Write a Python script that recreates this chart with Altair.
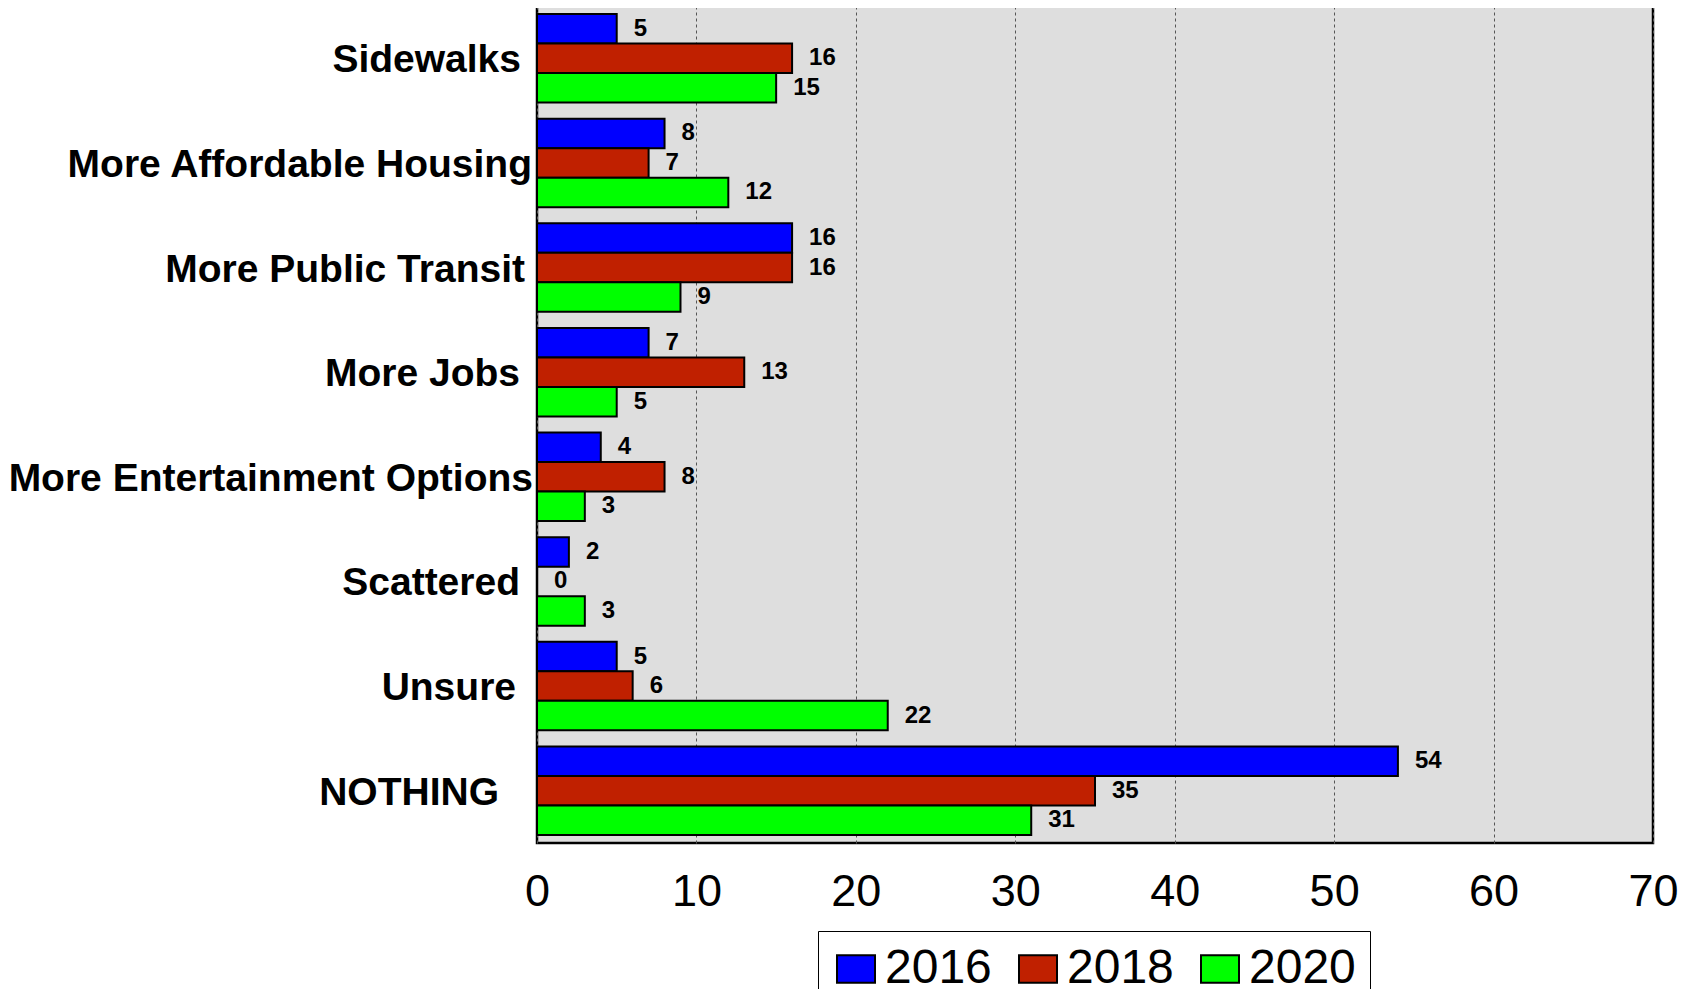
import altair as alt
import pandas as pd

categories = ["Sidewalks", "More Affordable Housing", "More Public Transit", "More Jobs",
              "More Entertainment Options", "Scattered", "Unsure", "NOTHING"]
years = ["2016", "2018", "2020"]
values_2016 = [5, 8, 16, 7, 4, 2, 5, 54]
values_2018 = [16, 7, 16, 13, 8, 0, 6, 35]
values_2020 = [15, 12, 9, 5, 3, 3, 22, 31]
colors = ["#0000ff", "#c02000", "#00ff00"]
x_ticks = [0, 10, 20, 30, 40, 50, 60, 70]
# right-edge gap (px) of each category label from the plot frame (style only)
label_gap = [16, 5, 12, 17, 4, 17, 21, 38]

rows = []
for yr, vals in zip(years, [values_2016, values_2018, values_2020]):
    for c, v in zip(categories, vals):
        rows.append({"category": c, "year": yr, "value": v})
df = pd.DataFrame(rows)

FONT = "Liberation Sans, Arial, sans-serif"

y_scale = alt.Scale(paddingInner=0.153, paddingOuter=0.0765)
y_enc = alt.Y("category:N", sort=categories, scale=y_scale, axis=None)
yoff = alt.YOffset("year:N", sort=years, scale=alt.Scale(paddingInner=0, paddingOuter=0))
x_enc = alt.X("value:Q", scale=alt.Scale(domain=[0, 70], nice=False),
              axis=alt.Axis(title=None, values=x_ticks, ticks=False, domain=False,
                            labelFont=FONT, labelFontSize=45, labelColor="black",
                            labelPadding=26, labelFlush=False, grid=True,
                            gridColor="#555555", gridDash=[3, 3], gridWidth=1))

bars = alt.Chart(df).mark_bar(stroke="black", strokeWidth=2, opacity=1).encode(
    y=y_enc, yOffset=yoff, x=x_enc,
    color=alt.Color("year:N", sort=years,
                    scale=alt.Scale(domain=years, range=colors),
                    legend=alt.Legend(title=None, orient="none", legendX=281, legendY=925,
                                      direction="horizontal", columns=3,
                                      labelFont=FONT, labelFontSize=48, labelColor="black",
                                      symbolType="M-1,-0.72H1V0.72H-1Z", symbolSize=1444,
                                      symbolStrokeColor="black", symbolStrokeWidth=2,
                                      symbolOpacity=1, labelOffset=5, columnPadding=22,
                                      padding=14, strokeColor="black", fillColor="white",
                                      labelLimit=400))
)

labels = alt.Chart(df).mark_text(align="left", baseline="middle", dx=17, font=FONT,
                                 fontSize=24, fontWeight="bold", color="black").encode(
    y=alt.Y("category:N", sort=categories), yOffset=alt.YOffset("year:N", sort=years),
    x=alt.X("value:Q"), text="value:Q"
)

cat_layers = []
for c, g in zip(categories, label_gap):
    cat_layers.append(
        alt.Chart(pd.DataFrame({"category": [c]})).mark_text(
            align="right", baseline="middle", dy=2, font=FONT, fontSize=39,
            fontWeight="bold", color="black", clip=False
        ).encode(y=alt.Y("category:N", sort=categories), x=alt.value(-g), text="category:N")
    )

chart = alt.layer(bars, labels, *cat_layers).properties(
    width=1116, height=837,
    autosize=alt.AutoSizeParams(type="none"),
    padding={"left": 529, "top": -2, "right": 30, "bottom": 146},
).configure_view(stroke="black", strokeWidth=2.5, fill="#dedede")

chart.save("out.html", embed_options={"renderer": "svg", "actions": False})
